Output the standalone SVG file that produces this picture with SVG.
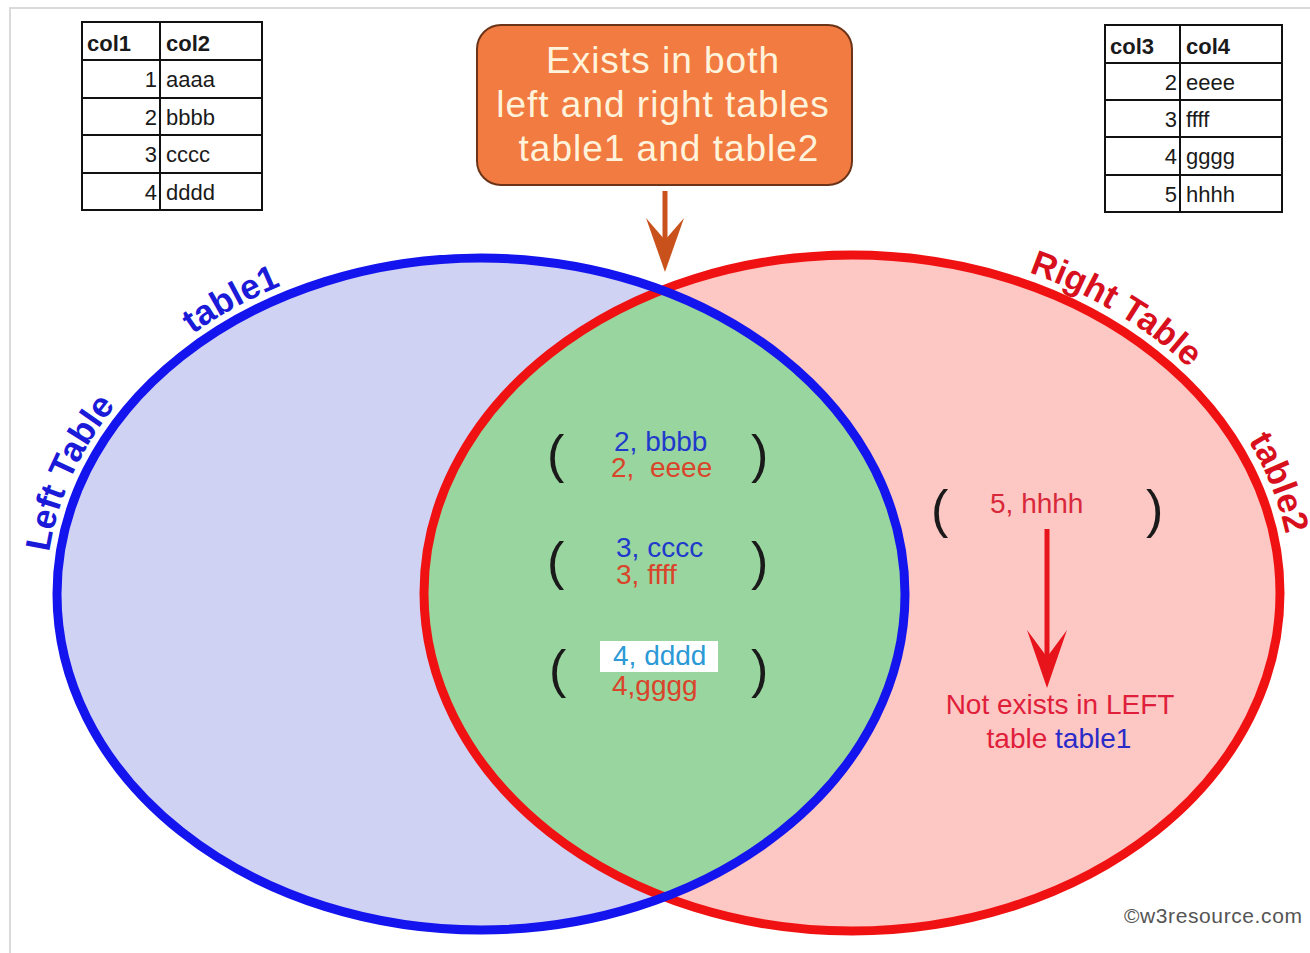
<svg xmlns="http://www.w3.org/2000/svg" width="1310" height="953" viewBox="0 0 1310 953">
  <style>
    .frame { fill: none; stroke: #dadada; stroke-width: 2; }
    .grid { fill: #ffffff; stroke: #111111; stroke-width: 2; }
    .cell { font-family: "Liberation Sans", Arial, sans-serif; font-size: 22px; fill: #1a1a1a; }
    .head { font-weight: bold; }
    .num { text-anchor: end; }
    .callout-box { fill: #f27b42; stroke: #6b3418; stroke-width: 2; }
    .callout-text { font-family: "Liberation Sans", Arial, sans-serif; font-size: 37px; letter-spacing: 1px; fill: #fff3dc; text-anchor: middle; }
    .arc-label { font-family: "Liberation Sans", Arial, sans-serif; font-size: 35px; font-weight: bold; }
    .pair { font-family: "Liberation Sans", Arial, sans-serif; font-size: 28px; }
    .paren { font-family: "Liberation Sans", Arial, sans-serif; font-size: 52px; fill: #1a1a1a; }
    .blue { fill: #1f3acb; }
    .red { fill: #d9442a; }
    .note { font-family: "Liberation Sans", Arial, sans-serif; font-size: 28px; fill: #e0203a; text-anchor: middle; }
    .mark { font-family: "Liberation Sans", Arial, sans-serif; font-size: 21px; letter-spacing: 0.6px; fill: #555555; }
  </style>
  <defs>
    <clipPath id="leftClip">
      <ellipse cx="481" cy="594" rx="424" ry="336"/>
    </clipPath>
    <path id="leftArc" d="M 46 594 A 435 347 0 0 1 916 594"/>
    <path id="rightArc" d="M 852 243 A 440 350 0 0 1 1292 593 A 440 350 0 0 1 852 943"/>
    <marker id="headOrange" markerUnits="userSpaceOnUse" viewBox="0 0 54 40" markerWidth="54" markerHeight="40" refX="22" refY="20" orient="auto">
      <path d="M0,1 L54,20 L0,39 L22,20 Z" fill="#c9521c"/>
    </marker>
    <marker id="headRed" markerUnits="userSpaceOnUse" viewBox="0 0 58 42" markerWidth="58" markerHeight="42" refX="27" refY="21" orient="auto">
      <path d="M0,1 L58,21 L0,41 L27,21 Z" fill="#e8141c"/>
    </marker>
  </defs>

  <!-- page frame -->
  <path class="frame" d="M 10 953 L 10 8 L 1310 8"/>

  <!-- left set -->
  <g id="left-table-set">
    <ellipse cx="481" cy="594" rx="424" ry="336" fill="#cfd2f3"/>
  </g>

  <!-- right set -->
  <g id="right-table-set">
    <ellipse cx="852" cy="593" rx="428" ry="338" fill="#fdc7c4"/>
  </g>

  <!-- overlap of both sets -->
  <g id="overlap">
    <ellipse cx="852" cy="593" rx="428" ry="338" fill="#99d59f" clip-path="url(#leftClip)"/>
  </g>

  <!-- outlines -->
  <g id="outlines">
    <ellipse cx="852" cy="593" rx="428" ry="338" fill="none" stroke="#f01212" stroke-width="9"/>
    <ellipse cx="481" cy="594" rx="424" ry="336" fill="none" stroke="#1414ee" stroke-width="9"/>
  </g>

  <!-- curved set labels -->
  <g id="left-labels">
    <text class="arc-label" fill="#1a1ad8"><textPath href="#leftArc" startOffset="42">Left Table</textPath></text>
    <text class="arc-label" fill="#1a1ad8"><textPath href="#leftArc" startOffset="310">table1</textPath></text>
  </g>
  <g id="right-labels">
    <text class="arc-label" fill="#d8101e"><textPath href="#rightArc" startOffset="180">Right Table</textPath></text>
    <text class="arc-label" fill="#d8101e"><textPath href="#rightArc" startOffset="462">table2</textPath></text>
  </g>

  <!-- table1 -->
  <g id="table1">
    <rect class="grid" x="82" y="22" width="180" height="188"/>
    <path class="grid" d="M 160 22 V 210 M 82 60 H 262 M 82 98 H 262 M 82 135 H 262 M 82 173 H 262"/>
    <text class="cell head" x="87" y="51">col1</text>
    <text class="cell head" x="166" y="51">col2</text>
    <text class="cell num" x="157" y="87">1</text><text class="cell" x="166" y="87">aaaa</text>
    <text class="cell num" x="157" y="125">2</text><text class="cell" x="166" y="125">bbbb</text>
    <text class="cell num" x="157" y="162">3</text><text class="cell" x="166" y="162">cccc</text>
    <text class="cell num" x="157" y="200">4</text><text class="cell" x="166" y="200">dddd</text>
  </g>

  <!-- table2 -->
  <g id="table2">
    <rect class="grid" x="1105" y="25" width="177" height="187"/>
    <path class="grid" d="M 1180 25 V 212 M 1105 63 H 1282 M 1105 100 H 1282 M 1105 137 H 1282 M 1105 175 H 1282"/>
    <text class="cell head" x="1110" y="54">col3</text>
    <text class="cell head" x="1186" y="54">col4</text>
    <text class="cell num" x="1177" y="90">2</text><text class="cell" x="1186" y="90">eeee</text>
    <text class="cell num" x="1177" y="127">3</text><text class="cell" x="1186" y="127">ffff</text>
    <text class="cell num" x="1177" y="164">4</text><text class="cell" x="1186" y="164">gggg</text>
    <text class="cell num" x="1177" y="202">5</text><text class="cell" x="1186" y="202">hhhh</text>
  </g>

  <!-- callout -->
  <g id="callout">
    <rect class="callout-box" x="477" y="25" width="375" height="160" rx="24" ry="24"/>
    <text class="callout-text" x="663" y="73">Exists in both</text>
    <text class="callout-text" x="663" y="117">left and right tables</text>
    <text class="callout-text" x="669" y="161">table1 and table2</text>
  </g>

  <!-- matching rows -->
  <g id="match-2">
    <text class="paren" x="547" y="472">(</text>
    <text class="paren" x="751" y="472">)</text>
    <text class="pair blue" x="614" y="451">2, bbbb</text>
    <text class="pair red" x="611" y="477" xml:space="preserve">2,  eeee</text>
  </g>
  <g id="match-3">
    <text class="paren" x="547" y="579">(</text>
    <text class="paren" x="751" y="579">)</text>
    <text class="pair blue" x="616" y="557">3, cccc</text>
    <text class="pair red" x="616" y="584">3, ffff</text>
  </g>
  <g id="match-4">
    <text class="paren" x="549" y="687">(</text>
    <text class="paren" x="751" y="687">)</text>
    <rect x="600" y="641" width="118" height="31" fill="#ffffff"/>
    <text class="pair" x="613" y="665" fill="#2b9ad6">4, dddd</text>
    <text class="pair red" x="612" y="695">4,gggg</text>
  </g>

  <!-- right-only row -->
  <g id="right-only">
    <text class="paren" x="931" y="527">(</text>
    <text class="paren" x="1146" y="527">)</text>
    <text class="pair" x="990" y="513" fill="#d8283a">5, hhhh</text>
  </g>
  <g id="right-only-note">
    <text class="note" x="1060" y="714">Not exists in LEFT</text>
    <text class="note" x="1059" y="748">table <tspan fill="#2a2ac8">table1</tspan></text>
  </g>

  <!-- arrows -->
  <g id="connectors">
    <line x1="665" y1="191" x2="665" y2="240" stroke="#c9521c" stroke-width="5" marker-end="url(#headOrange)"/>
    <line x1="1047" y1="529" x2="1047" y2="657" stroke="#e8141c" stroke-width="5" marker-end="url(#headRed)"/>
  </g>

  <text class="mark" x="1124" y="923">©w3resource.com</text>
</svg>
